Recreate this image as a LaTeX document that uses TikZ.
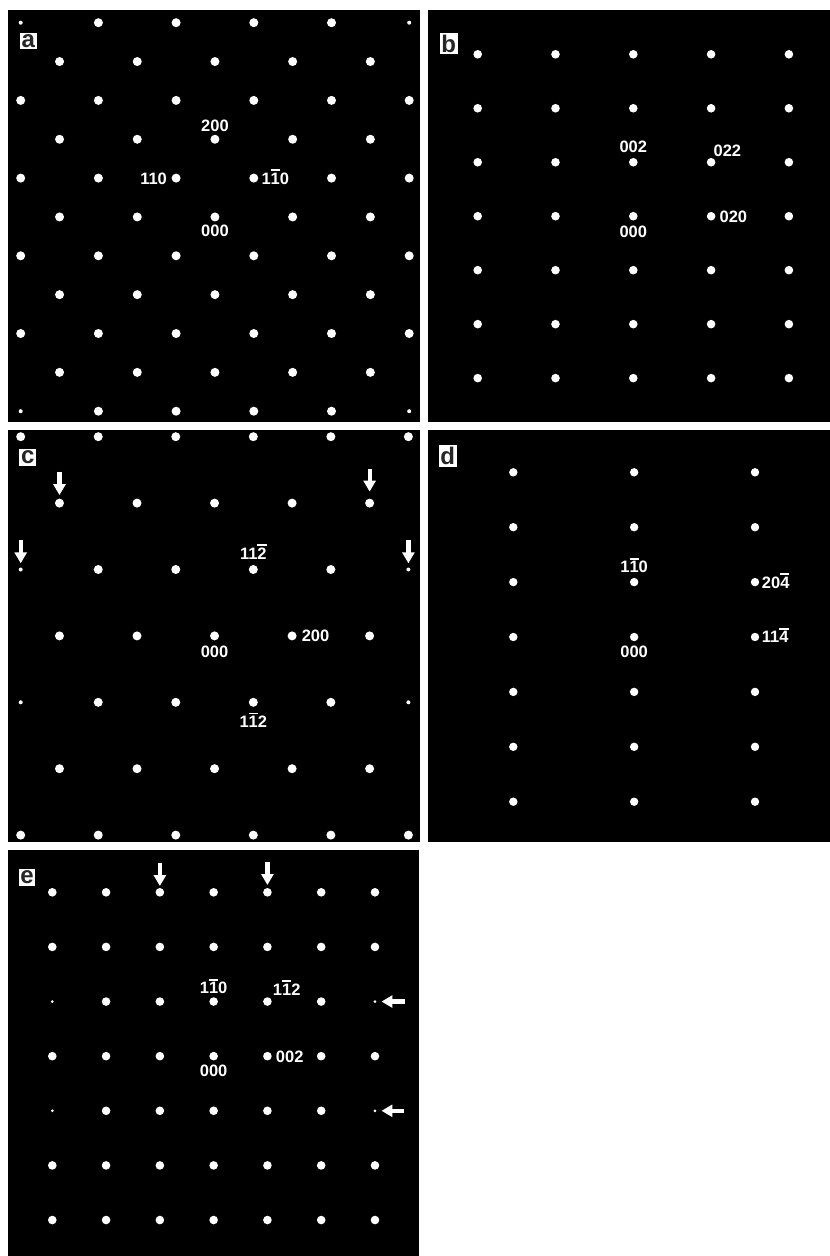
\documentclass[tikz,border=0pt]{standalone}
\usepackage{fontspec}
\setsansfont{Liberation Sans}
\usetikzlibrary{arrows.meta, positioning}
\definecolor{tagink}{RGB}{38,38,38}
\newcommand{\barnum}[1]{\vbox{\hrule height 1.8pt\kern 1.7pt\hbox{#1}}}

\begin{document}
\begin{tikzpicture}[
    x=1pt, y=-1pt,
    spot/.style={circle, fill=white, inner sep=0pt, outer sep=0pt, minimum size=#1},
    spot/.default=8.6pt,
    hkl/.style={inner sep=0pt, text=white, font=\sffamily\bfseries\fontsize{16.5}{18}\selectfont, text height=11.8pt, text depth=0pt},
    tag/.style={fill=white, text=tagink, inner sep=1.8pt, anchor=south west, font=\sffamily\bfseries\fontsize{24}{26}\selectfont},
    marker/.style={white, line width=4.2pt, -{Triangle[length=11pt, width=12pt]}, shorten >=#1},
]
    \fill[white] (0,0) rectangle (830,1256);
    \useasboundingbox (0,0) rectangle (830,1256);

    % Panel a
    \fill[black] (8,10) rectangle (420,421.7);
    \foreach \j in {0,2,...,10}
      \foreach \k in {0,2,...,10} {
        \pgfmathtruncatemacro\rim{(\k==0 || \k==10) && (\j==0 || \j==10)}
        \ifnum\rim=1 \def\sz{4pt}\else\def\sz{9pt}\fi
        \node[spot=\sz] (a-\k-\j) at (20.7+\k*38.85, 22.7+\j*38.85) {};
      }
    \foreach \j in {1,3,...,9}
      \foreach \k in {1,3,...,9}
        \node[spot=9pt] (a-\k-\j) at (20.7+\k*38.85, 22.7+\j*38.85) {};
    \node[tag] (tag-a) at (19.5,49.5) {a};
    \node[hkl, above=3pt of a-5-3] (a-200) {200};
    \node[hkl, left=4.5pt of a-4-4] (a-110) {110};
    \node[hkl, right=3pt of a-6-4] (a-1m10) {1\barnum{1}0};
    \node[hkl, below=3pt of a-5-5] (a-000) {000};

    % Panel b
    \fill[black] (428,10) rectangle (830,421.7);
    \foreach \i in {0,...,4}
      \foreach \j in {0,...,6}
        \node[spot=8.6pt] (b-\i-\j) at (477.7+\i*77.8, 54.3+\j*53.97) {};
    \node[tag] (tag-b) at (439.3,54.3) {b};
    \node[hkl, above=5pt of b-2-2] (b-002) {002};
    \node[hkl, above right=3pt and -0.7pt of b-3-2] (b-022) {022};
    \node[hkl, right=4pt of b-3-3] (b-020) {020};
    \node[hkl, below=5pt of b-2-3] (b-000) {000};

    % Panel c
    \fill[black] (8,430) rectangle (420,841.7);
    \foreach \j in {0,2,4,6}
      \foreach \k in {0,2,...,10} {
        \pgfmathtruncatemacro\rim{(\k==0 || \k==10) && (\j==2 || \j==4)}
        \ifnum\rim=1 \def\sz{4pt}\else\def\sz{9pt}\fi
        \node[spot=\sz] (c-\k-\j) at (20.7+\k*38.77, 436.7+\j*66.4) {};
      }
    \foreach \j in {1,3,5}
      \foreach \k in {1,3,...,9}
        \node[spot=9pt] (c-\k-\j) at (20.7+\k*38.77, 436.7+\j*66.4) {};
    \node[tag] (tag-c) at (19,465.7) {c};
    \node[hkl, above=5.5pt of c-6-2] (c-11m2) {11\barnum{2}};
    \node[hkl, right=5pt of c-7-3] (c-200) {200};
    \node[hkl, below=5pt of c-5-3] (c-000) {000};
    \node[hkl, below=8.7pt of c-6-4] (c-1m12) {1\barnum{1}2};

    % superlattice markers
    \coordinate (c-t1) at ([yshift=31.4pt]c-1-1);
    \coordinate (c-t2) at ([yshift=34pt]c-9-1);
    \coordinate (c-t3) at ([yshift=29.5pt]c-0-2);
    \coordinate (c-t4) at ([yshift=29.5pt]c-10-2);
    \draw[marker=3.5pt] (c-t1) -- (c-1-1);
    \draw[marker=7pt] (c-t2) -- (c-9-1);
    \draw[marker=4.2pt] (c-t3) -- (c-0-2);
    \draw[marker=4.2pt] (c-t4) -- (c-10-2);

    % Panel d
    \fill[black] (428,430) rectangle (830,841.7);
    \foreach \i in {0,1,2}
      \foreach \j in {0,...,6}
        \node[spot=8.4pt] (d-\i-\j) at (513.3+\i*120.85, 472.3+\j*54.9) {};
    \node[tag] (tag-d) at (438.3,466.7) {d};
    \node[hkl, above=5pt of d-1-2] (d-1m10) {1\barnum{1}0};
    \node[hkl, right=2.5pt of d-2-2] (d-20m4) {20\barnum{4}};
    \node[hkl, right=2.5pt of d-2-3] (d-11m4) {11\barnum{4}};
    \node[hkl, below=4pt of d-1-3] (d-000) {000};

    % Panel e
    \fill[black] (8,850) rectangle (419.3,1256);
    \foreach \i in {0,...,6}
      \foreach \j in {0,...,6} {
        \pgfmathtruncatemacro\rim{(\i==0 || \i==6) && (\j==2 || \j==4)}
        \ifnum\rim=1 \def\sz{3pt}\else\def\sz{8.6pt}\fi
        \node[spot=\sz] (e-\i-\j) at (52.3+\i*53.78, 892.3+\j*54.62) {};
      }
    \node[tag] (tag-e) at (18.3,885.7) {e};
    \node[hkl, above=3.5pt of e-3-2] (e-1m10) {1\barnum{1}0};
    \node[hkl, above right=3.3pt and 2.3pt of e-4-2] (e-1m12) {1\barnum{1}2};
    \node[hkl, right=4pt of e-4-3] (e-002) {002};
    \node[hkl, below=4pt of e-3-3] (e-000) {000};

    % superlattice markers
    \coordinate (e-t1) at ([yshift=29.6pt]e-2-0);
    \coordinate (e-t2) at ([yshift=30.6pt]e-4-0);
    \coordinate (e-t3) at ([xshift=30pt]e-6-2);
    \coordinate (e-t4) at ([xshift=29.3pt]e-6-4);
    \draw[marker=2pt] (e-t1) -- (e-2-0);
    \draw[marker=3pt] (e-t2) -- (e-4-0);
    \draw[marker=5pt] (e-t3) -- (e-6-2);
    \draw[marker=5pt] (e-t4) -- (e-6-4);

\end{tikzpicture}
\end{document}
